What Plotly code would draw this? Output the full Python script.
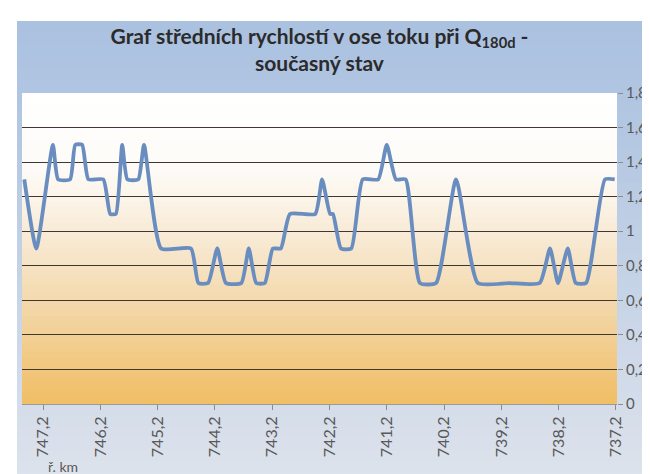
import plotly.graph_objects as go

# vzdalenost (r. km) a stredni rychlost v ose toku [m/s]
km = [747.53, 747.32, 747.03, 746.94, 746.73, 746.64, 746.52, 746.41, 746.15, 746.03,
      745.93, 745.82, 745.73, 745.54, 745.44, 745.14, 744.62, 744.49, 744.32, 744.16,
      744.01, 743.74, 743.61, 743.48, 743.33, 743.19, 743.05, 742.89, 742.45, 742.33,
      742.19, 742.14, 742.00, 741.82, 741.62, 741.35, 741.20, 741.04, 740.87, 740.62,
      740.34, 739.99, 739.61, 739.07, 738.53, 738.35, 738.21, 738.04, 737.90, 737.72,
      737.39, 737.22]
rychlost = [1.3, 0.9, 1.5, 1.3, 1.3, 1.5, 1.5, 1.3, 1.3, 1.1,
            1.1, 1.5, 1.3, 1.3, 1.5, 0.9, 0.9, 0.7, 0.7, 0.9,
            0.7, 0.7, 0.9, 0.7, 0.7, 0.9, 0.9, 1.1, 1.1, 1.3,
            1.1, 1.1, 0.9, 0.9, 1.3, 1.3, 1.5, 1.3, 1.3, 0.7,
            0.7, 1.3, 0.7, 0.7, 0.7, 0.9, 0.7, 0.9, 0.7, 0.7,
            1.3, 1.3]
tick_km = [747.2, 746.2, 745.2, 744.2, 743.2, 742.2, 741.2, 740.2, 739.2, 738.2, 737.2]
tick_text = ["747,2", "746,2", "745,2", "744,2", "743,2", "742,2",
             "741,2", "740,2", "739,2", "738,2", "737,2"]

W, H = 650, 474
ML, MR, MT, MB = 14, 41, 85, 78
PW, PH = W - ML - MR, H - MT - MB


def mix(stops, t):
    for (t0, c0), (t1, c1) in zip(stops, stops[1:]):
        if t <= t1:
            f = (t - t0) / (t1 - t0) if t1 > t0 else 0
            return "rgb(%d,%d,%d)" % tuple(round(a + (b - a) * f) for a, b in zip(c0, c1))
    return "rgb(%d,%d,%d)" % stops[-1][1]


shapes = []
# modry ramecek grafu (prechod shora dolu)
frame = [(0, (170, 193, 224)), (0.3, (182, 201, 227)), (1, (222, 227, 236))]
n = 40
top, bot = 13, H + 2
for i in range(n):
    y0 = top + (bot - top) * i / n
    y1 = top + (bot - top) * (i + 1.6) / n
    shapes.append(dict(type="rect", xref="paper", yref="paper", layer="below",
                       x0=(9 - ML) / PW, x1=(W + 5 - ML) / PW,
                       y0=(H - MB - min(y1, bot)) / PH, y1=(H - MB - y0) / PH,
                       fillcolor=mix(frame, (i + 0.5) / n), line_width=0))
# vypln oblasti grafu (bila -> oranzova)
area = [(0, (255, 255, 255)), (0.25, (253, 251, 247)), (0.5, (247, 231, 206)),
        (0.75, (242, 210, 156)), (1, (241, 190, 100))]
n = 60
for i in range(n):
    shapes.append(dict(type="rect", xref="paper", yref="paper", layer="below",
                       x0=0, x1=1, y0=max(0, 1 - (i + 1.6) / n), y1=1 - i / n,
                       fillcolor=mix(area, (i + 0.5) / n), line_width=0))

fig = go.Figure()
fig.add_trace(go.Scatter(x=km, y=rychlost, mode="lines",
                         line=dict(color="#6a8dc0", width=3.8, shape="spline", smoothing=0.5),
                         showlegend=False, hoverinfo="skip"))

fig.update_layout(
    width=W, height=H,
    margin=dict(l=ML, r=MR, t=MT, b=MB),
    paper_bgcolor="white", plot_bgcolor="rgba(0,0,0,0)",
    separators=", ",
    font=dict(family="Lato, Open Sans, sans-serif", color="#595959", size=15),
    title=dict(text="Graf středních rychlostí v ose toku při Q<sub>180d</sub> -<br>současný stav",
               x=0.5, xref="paper", xanchor="center", y=1 - 36 / H, yanchor="top",
               font=dict(family="Lato, sans-serif", size=21, color="#2b2b2b", weight="bold")),
    shapes=shapes,
    annotations=[dict(text="ř. km", xref="paper", yref="paper", x=(38 - ML) / PW,
                      y=-(458 - (H - MB)) / PH, xanchor="left", yanchor="middle",
                      showarrow=False, font=dict(size=14, color="#595959"))],
)
fig.update_xaxes(range=[747.57, 737.18], tickvals=tick_km, ticktext=tick_text,
                 tickangle=-90, ticks="outside", ticklen=5, tickcolor="#8c8c8c",
                 tickfont=dict(size=16),
                 showgrid=False, zeroline=False, showline=True, linecolor="#9a9a9a",
                 linewidth=1)
fig.update_yaxes(range=[0, 1.8], dtick=0.2, side="right", ticks="outside", ticklen=5,
                 tickcolor="#8c8c8c", showgrid=True, gridcolor="#3f3830", gridwidth=1.4,
                 zeroline=False, showline=False)

fig.write_html("out.html")
